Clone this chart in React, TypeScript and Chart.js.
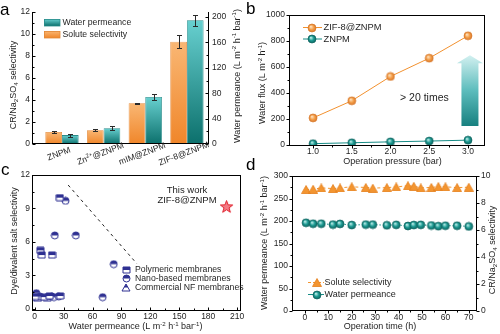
import React, { useEffect, useRef } from 'react';
import { Chart, registerables } from 'chart.js';
Chart.register(...registerables);

const FONT = 'Arial, "Liberation Sans", Helvetica, sans-serif';
const TXT = '#1e1e1e';
const ORANGE = '#f39530';
const TEAL = '#178c86';
const NAVY = '#2f3192';

// ---------- Panel a ----------
const aCategories = ['ZNPM', 'Zn^{2+}@ZNPM', 'mIM@ZNPM', 'ZIF-8@ZNPM'];
const aSelectivity = [1.1, 1.25, 3.7, 9.3];
const aSelectivityErr = [0.07, 0.07, 0.05, 0.6];
const aPermeance = [14, 25, 74, 195];
const aPermeanceErr = [2.5, 3.5, 4.5, 8.5];
const aLeftTicks = [0, 2, 4, 6, 8, 10, 12];
const aRightTicks = [0, 40, 80, 120, 160, 200];

// ---------- Panel b ----------
const bPressure = [1.0, 1.5, 2.0, 2.5, 3.0];
const bZif = [208, 340, 527, 668, 840];
const bZnpm = [10, 17, 24, 30, 37];
const bXTicks = [1.0, 1.5, 2.0, 2.5, 3.0];
const bYTicks = [0, 200, 400, 600, 800, 1000];

// ---------- Panel c ----------
const cPolyX = [0.5, 10, 15.5, 26.5, 5.9, 7.3, 18, 26];
const cPolyY = [1.1, 1.05, 1.15, 1.15, 5.24, 4.82, 4.82, 9.97];
const cNanoX = [1.7, 5.5, 17.5, 20, 25, 32, 20.8, 42.7, 82, 70.5];
const cNanoY = [1.4, 1.1, 1.1, 1.05, 1.1, 9.68, 6.58, 6.58, 4.0, 1.04];
const cCommX = [3, 13];
const cCommY = [1.0, 1.05];
const cThisX = [199];
const cThisY = [9.17];
const cTrendX = [34.7, 105.9];
const cTrendY = [11.1, 4.05];
const cXTicks = [0, 30, 60, 90, 120, 150, 180, 210];
const cYTicks = [0, 3, 6, 9, 12];

// ---------- Panel d ----------
const dTime = [0.5, 3.5, 7, 12, 15, 20, 26, 29, 35, 39, 44, 46.5, 49.5, 54, 57, 60, 65, 70];
const dSelectivity = [9.0, 9.02, 9.12, 9.07, 9.12, 9.2, 9.15, 9.1, 9.14, 9.19, 9.28, 9.24, 9.12, 9.15, 9.22, 9.2, 9.14, 9.17];
const dPermeance = [196, 194, 194, 192, 193.5, 191, 192, 192, 190.5, 191.5, 189, 191, 191.5, 190, 188.5, 189.5, 189.5, 188];
const dXTicks = [0, 10, 20, 30, 40, 50, 60, 70];
const dLeftTicks = [0, 50, 100, 150, 200, 250, 300];
const dRightTicks = [0, 2, 4, 6, 8, 10];

// ---------- helpers ----------
function mids(a: number[]) {
  const r: number[] = [];
  for (let i = 0; i < a.length - 1; i++) r.push((a[i] + a[i + 1]) / 2);
  return r;
}

type Seg = [string, number];
function parseRich(s: string): Seg[] {
  const out: Seg[] = [];
  let i = 0, buf = '';
  while (i < s.length) {
    const ch = s[i];
    if ((ch === '^' || ch === '_') && s[i + 1] === '{') {
      if (buf) { out.push([buf, 0]); buf = ''; }
      const end = s.indexOf('}', i);
      out.push([s.slice(i + 2, end), ch === '^' ? 1 : -1]);
      i = end + 1;
    } else { buf += ch; i++; }
  }
  if (buf) out.push([buf, 0]);
  return out;
}

function drawText(ctx: any, text: string, x: number, y: number, size: number, o: any = {}) {
  const segs = parseRich(text);
  ctx.save();
  ctx.translate(x, y);
  if (o.rot) ctx.rotate(o.rot);
  const fsz = (l: number) => (l === 0 ? size : size * 0.68);
  const setF = (l: number) => { ctx.font = `${o.weight || 'normal'} ${fsz(l)}px ${FONT}`; };
  let total = 0;
  const ws: number[] = [];
  for (const [t, l] of segs) { setF(l); const w = ctx.measureText(t).width; ws.push(w); total += w; }
  const align = o.align || 'center';
  let cx = align === 'center' ? -total / 2 : align === 'left' ? 0 : -total;
  ctx.textAlign = 'left';
  ctx.textBaseline = 'middle';
  ctx.fillStyle = o.color || TXT;
  segs.forEach(([t, l], k) => {
    setF(l);
    const dy = l === 1 ? -size * 0.32 : l === -1 ? size * 0.28 : 0;
    ctx.fillText(t, cx, dy);
    cx += ws[k];
  });
  ctx.restore();
}

function letter(ctx: any, t: string, x: number, y: number) {
  ctx.save();
  ctx.font = `17px ${FONT}`;
  ctx.fillStyle = '#000';
  ctx.textAlign = 'left';
  ctx.textBaseline = 'alphabetic';
  ctx.fillText(t, x, y);
  ctx.restore();
}

// size = thickness of the axis box (labels are clipped to it by Chart.js)
function axis(position: string, min: number, max: number, ticks: number[], size: number, o: any = {}) {
  return {
    type: 'linear',
    position,
    min,
    max,
    offset: false,
    grid: { display: false, drawTicks: false },
    border: { display: false },
    afterBuildTicks: (s: any) => { s.ticks = ticks.map((v) => ({ value: v })); },
    afterFit: (s: any) => {
      if (position === 'bottom' || position === 'top') s.height = size; else s.width = size;
      s.paddingLeft = 0; s.paddingRight = 0; s.paddingTop = 0; s.paddingBottom = 0;
    },
    ticks: {
      display: o.display !== false,
      padding: o.padding ?? 3,
      color: TXT,
      font: { family: FONT, size: 8.5 },
      autoSkip: false,
      maxRotation: 0,
      minRotation: 0,
      callback: (v: number) => (o.cb ? o.cb(v) : String(v)),
    },
  };
}

// chart area L,R,T,B ; axis box sizes: left, right, bottom
function common(L: number, R: number, T: number, B: number, sl: number, sr: number, sb: number) {
  return {
    responsive: false,
    animation: false,
    devicePixelRatio: 1,
    layout: { padding: { left: L - sl, right: 500 - R - sr, top: T, bottom: 334 - B - sb } },
    plugins: { legend: { display: false }, tooltip: { enabled: false } },
  };
}

function frame(ch: any, sides: string) {
  const { left, right, top, bottom } = ch.chartArea;
  const ctx = ch.ctx;
  ctx.save();
  ctx.strokeStyle = '#000';
  ctx.lineWidth = 1;
  ctx.beginPath();
  const l = Math.round(left) + 0.5, r = Math.round(right) - 0.5, t = Math.round(top) + 0.5, b = Math.round(bottom) - 0.5;
  if (sides.includes('l')) { ctx.moveTo(l, t - 0.5); ctx.lineTo(l, b + 0.5); }
  if (sides.includes('r')) { ctx.moveTo(r, t - 0.5); ctx.lineTo(r, b + 0.5); }
  if (sides.includes('t')) { ctx.moveTo(l - 0.5, t); ctx.lineTo(r + 0.5, t); }
  if (sides.includes('b')) { ctx.moveTo(l - 0.5, b); ctx.lineTo(r + 0.5, b); }
  ctx.stroke();
  ctx.restore();
}

function marks(ch: any, id: string, vals: number[], len: number, dir: string) {
  const s = ch.scales[id];
  const a = ch.chartArea;
  const ctx = ch.ctx;
  ctx.save();
  ctx.strokeStyle = '#000';
  ctx.lineWidth = 1;
  ctx.beginPath();
  for (const v of vals) {
    if (v < s.min || v > s.max) continue;
    const p = Math.round(s.getPixelForValue(v)) + 0.5;
    if (s.isHorizontal()) {
      const y = Math.round(a.bottom) - 0.5;
      const sg = dir === 'out' ? 1 : -1;
      ctx.moveTo(p, y); ctx.lineTo(p, y + sg * len);
    } else if (s.position === 'right') {
      const x = Math.round(a.right) - 0.5;
      const sg = dir === 'out' ? 1 : -1;
      ctx.moveTo(x, p); ctx.lineTo(x + sg * len, p);
    } else {
      const x = Math.round(a.left) + 0.5;
      const sg = dir === 'out' ? -1 : 1;
      ctx.moveTo(x, p); ctx.lineTo(x + sg * len, p);
    }
  }
  ctx.stroke();
  ctx.restore();
}

function barGrad(c: any, top: string, bot: string) {
  const chart = c.chart;
  if (c.type !== 'data' || !chart.chartArea) return bot;
  const ds = chart.data.datasets[c.datasetIndex];
  const ys = chart.scales[ds.yAxisID];
  if (!ys) return bot;
  const t = ys.getPixelForValue(c.raw.y);
  const b = ys.getPixelForValue(0);
  if (!isFinite(t) || !isFinite(b) || Math.abs(b - t) < 1) return bot;
  const g = chart.ctx.createLinearGradient(0, t, 0, b);
  g.addColorStop(0, top);
  g.addColorStop(1, bot);
  return g;
}

function errorBars(ch: any, di: number, errs: number[]) {
  const meta = ch.getDatasetMeta(di);
  const ds = ch.data.datasets[di];
  const ys = ch.scales[ds.yAxisID];
  const ctx = ch.ctx;
  ctx.save();
  ctx.strokeStyle = '#2a2a2a';
  ctx.lineWidth = 1;
  meta.data.forEach((el: any, i: number) => {
    const v = ds.data[i].y, e = errs[i];
    const x = Math.round(el.x) + 0.5;
    const t = Math.round(ys.getPixelForValue(v + e)) + 0.5;
    const b = Math.round(ys.getPixelForValue(v - e)) + 0.5;
    ctx.beginPath();
    ctx.moveTo(x, t); ctx.lineTo(x, b);
    ctx.moveTo(x - 2.5, t); ctx.lineTo(x + 2.5, t);
    ctx.moveTo(x - 2.5, b); ctx.lineTo(x + 2.5, b);
    ctx.stroke();
  });
  ctx.restore();
}

function mk(w: number, h: number, draw: (g: any) => void) {
  const c = document.createElement('canvas');
  c.width = w; c.height = h;
  draw(c.getContext('2d'));
  return c;
}

function ball(d: number, base: string, light: string, dark: string) {
  return mk(d + 2, d + 2, (g) => {
    const r = d / 2, cx = (d + 2) / 2;
    const gr = g.createRadialGradient(cx - r * 0.3, cx - r * 0.35, r * 0.05, cx, cx, r);
    gr.addColorStop(0, light);
    gr.addColorStop(0.55, base);
    gr.addColorStop(1, dark);
    g.fillStyle = gr;
    g.beginPath(); g.arc(cx, cx, r, 0, Math.PI * 2); g.fill();
    g.strokeStyle = dark; g.lineWidth = 0.7; g.stroke();
  });
}

function half(kind: string, w: number, h: number) {
  return mk(w + 2, h + 2, (g) => {
    const path = () => {
      g.beginPath();
      if (kind === 'circle') g.ellipse((w + 2) / 2, (h + 2) / 2, w / 2, h / 2, 0, 0, Math.PI * 2);
      else if (kind === 'square') g.rect(1, 1, w, h);
      else { g.moveTo((w + 2) / 2, 1); g.lineTo(w + 1, h + 1); g.lineTo(1, h + 1); g.closePath(); }
    };
    path(); g.fillStyle = '#fff'; g.fill();
    g.save(); path(); g.clip(); g.fillStyle = NAVY; g.fillRect(0, 0, w + 2, (h + 2) / 2); g.restore();
    path(); g.strokeStyle = NAVY; g.lineWidth = 1; g.stroke();
  });
}

function starImg() {
  return mk(15, 15, (g) => {
    const cx = 7.5, cy = 8, R = 6.5, r = 2.7;
    g.beginPath();
    for (let i = 0; i < 10; i++) {
      const a = -Math.PI / 2 + (i * Math.PI) / 5;
      const rr = i % 2 ? r : R;
      g.lineTo(cx + rr * Math.cos(a), cy + rr * Math.sin(a));
    }
    g.closePath();
    g.fillStyle = '#f37a84'; g.fill();
    g.strokeStyle = '#e0202c'; g.lineWidth = 1; g.stroke();
  });
}

function triImg() {
  return mk(10, 9, (g) => {
    g.beginPath(); g.moveTo(5, 0.5); g.lineTo(9.5, 8.5); g.lineTo(0.5, 8.5); g.closePath();
    g.fillStyle = ORANGE; g.fill();
    g.strokeStyle = '#e57f1c'; g.lineWidth = 0.8; g.stroke();
  });
}

function img(ctx: any, im: any, x: number, y: number) {
  ctx.drawImage(im, Math.round(x - im.width / 2), Math.round(y - im.height / 2));
}

// ---------- Charts ----------
function buildA(cv: HTMLCanvasElement) {
  const sel = aCategories.map((_, i) => ({ x: i + 1, y: aSelectivity[i] }));
  const perm = aCategories.map((_, i) => ({ x: i + 1, y: aPermeance[i] }));
  return new Chart(cv, {
    type: 'bar',
    data: {
      datasets: [
        { label: 'Solute selectivity', data: sel, yAxisID: 'y', backgroundColor: (c: any) => barGrad(c, '#f9b774', '#f0862a'), borderColor: '#e2893a', borderWidth: 0.8, categoryPercentage: 0.8, barPercentage: 1 },
        { label: 'Water permeance', data: perm, yAxisID: 'y2', backgroundColor: (c: any) => barGrad(c, '#68d0d0', '#0c706c'), borderColor: '#2b8c8a', borderWidth: 0.8, categoryPercentage: 0.8, barPercentage: 1 },
      ],
    } as any,
    options: {
      ...common(32, 209, 12, 144, 32, 30, 20),
      scales: {
        x: axis('bottom', 0.28, 4.53, [1, 2, 3, 4], 20, { display: false }),
        y: axis('left', 0, 12, aLeftTicks, 32, { padding: 2 }),
        y2: axis('right', 0, 208, aRightTicks, 30, { padding: 3 }),
      },
    } as any,
    plugins: [{
      id: 'decoA',
      afterDatasetsDraw(ch: any) { errorBars(ch, 0, aSelectivityErr); errorBars(ch, 1, aPermeanceErr); },
      afterDraw(ch: any) {
        const ctx = ch.ctx;
        frame(ch, 'lrb');
        marks(ch, 'y', aLeftTicks, 3, 'in');
        marks(ch, 'y', mids(aLeftTicks), 2, 'in');
        marks(ch, 'y2', aRightTicks, 3, 'in');
        marks(ch, 'y2', mids(aRightTicks), 2, 'in');
        const xs = ch.scales.x;
        aCategories.forEach((c, i) => {
          drawText(ctx, c, xs.getPixelForValue(i + 1) - 3, 154, 8.5, { rot: -0.36 });
        });
        const lg = [
          { t: 'Water permeance', c0: '#68d0d0', c1: '#0c706c', b: '#2b8c8a', y: 22.5 },
          { t: 'Solute selectivity', c0: '#f9b774', c1: '#f0862a', b: '#e2893a', y: 34.5 },
        ];
        lg.forEach((e) => {
          const g = ctx.createLinearGradient(0, e.y - 3.5, 0, e.y + 3.5);
          g.addColorStop(0, e.c0); g.addColorStop(1, e.c1);
          ctx.fillStyle = g;
          ctx.fillRect(44, e.y - 3.5, 16, 7);
          ctx.strokeStyle = e.b; ctx.lineWidth = 0.8;
          ctx.strokeRect(44.5, e.y - 3, 15.5, 6.5);
          drawText(ctx, e.t, 62.5, e.y, 8.7, { align: 'left' });
        });
        drawText(ctx, 'CR/Na_{2}SO_{4} selectivity', 13.5, 85, 9, { rot: -Math.PI / 2 });
        drawText(ctx, 'Water permeance (L m^{-2} h^{-1} bar^{-1})', 237.5, 76, 9, { rot: -Math.PI / 2 });
        letter(ctx, 'a', 0, 15);
      },
    }],
  } as any);
}

function buildB(cv: HTMLCanvasElement, bO: any, bT: any) {
  return new Chart(cv, {
    type: 'scatter',
    data: {
      datasets: [
        { label: 'ZIF-8@ZNPM', data: bPressure.map((x, i) => ({ x, y: bZif[i] })), showLine: true, borderColor: '#f2912f', borderWidth: 1, pointStyle: bO, pointRadius: 4 },
        { label: 'ZNPM', data: bPressure.map((x, i) => ({ x, y: bZnpm[i] })), showLine: true, borderColor: TEAL, borderWidth: 1, pointStyle: bT, pointRadius: 4 },
      ],
    } as any,
    options: {
      ...common(289, 485, 15, 146, 32, 0, 14),
      scales: {
        x: axis('bottom', 0.69, 3.22, bXTicks, 14, { padding: 1, cb: (v: number) => v.toFixed(1) }),
        y: axis('left', -8, 1000, bYTicks, 32, { padding: 4 }),
      },
    } as any,
    plugins: [{
      id: 'decoB',
      afterDraw(ch: any) {
        const ctx = ch.ctx;
        frame(ch, 'lrtb');
        marks(ch, 'x', bXTicks, 3, 'out');
        marks(ch, 'x', mids(bXTicks), 2, 'out');
        marks(ch, 'y', bYTicks, 3, 'out');
        marks(ch, 'y', mids(bYTicks), 2, 'out');
        const rows = [{ t: 'ZIF-8@ZNPM', c: '#f2912f', im: bO, y: 27.5 }, { t: 'ZNPM', c: TEAL, im: bT, y: 39 }];
        rows.forEach((r) => {
          ctx.save(); ctx.strokeStyle = r.c; ctx.lineWidth = 1;
          ctx.beginPath(); ctx.moveTo(303, r.y); ctx.lineTo(322, r.y); ctx.stroke(); ctx.restore();
          img(ctx, r.im, 312, r.y);
          drawText(ctx, r.t, 323.5, r.y, 9.3, { align: 'left' });
        });
        drawText(ctx, '> 20 times', 400, 98, 10.5, { align: 'left' });
        const xs = ch.scales.x, ys = ch.scales.y;
        const cx = xs.getPixelForValue(3.0) + 2;
        const tip = ys.getPixelForValue(690), base = ys.getPixelForValue(628), bot = ys.getPixelForValue(145);
        const g = ctx.createLinearGradient(0, tip, 0, bot);
        g.addColorStop(0, '#d2f0f0'); g.addColorStop(0.5, '#5cbcbc'); g.addColorStop(1, '#17807f');
        ctx.beginPath();
        ctx.moveTo(cx, tip); ctx.lineTo(cx + 13, base); ctx.lineTo(cx + 8.5, base); ctx.lineTo(cx + 8.5, bot);
        ctx.lineTo(cx - 8.5, bot); ctx.lineTo(cx - 8.5, base); ctx.lineTo(cx - 13, base); ctx.closePath();
        ctx.fillStyle = g; ctx.fill();
        drawText(ctx, 'Water flux (L m^{-2} h^{-1})', 263, 83, 9, { rot: -Math.PI / 2 });
        drawText(ctx, 'Operation pressure (bar)', 392.5, 162, 9);
        letter(ctx, 'b', 246, 14);
      },
    }],
  } as any);
}

function buildC(cv: HTMLCanvasElement, sq: any, ci: any, tr: any, st: any) {
  return new Chart(cv, {
    type: 'scatter',
    data: {
      datasets: [
        { label: 'trend', data: cTrendX.map((x, i) => ({ x, y: cTrendY[i] })), showLine: true, borderColor: '#222', borderWidth: 1, borderDash: [3, 3.5], pointRadius: 0 },
        { label: 'Polymeric membranes', data: cPolyX.map((x, i) => ({ x, y: cPolyY[i] })), pointStyle: sq, pointRadius: 3.5 },
        { label: 'Nano-based membranes', data: cNanoX.map((x, i) => ({ x, y: cNanoY[i] })), pointStyle: ci, pointRadius: 3.5 },
        { label: 'Commercial NF membranes', data: cCommX.map((x, i) => ({ x, y: cCommY[i] })), pointStyle: tr, pointRadius: 3.5 },
        { label: 'This work', data: cThisX.map((x, i) => ({ x, y: cThisY[i] })), pointStyle: st, pointRadius: 6 },
      ],
    } as any,
    options: {
      ...common(32, 241, 175, 311, 32, 0, 14),
      scales: {
        x: axis('bottom', -2.8, 214, cXTicks, 14, { padding: 0.5 }),
        y: axis('left', -0.2, 12, cYTicks, 32, { padding: 2 }),
      },
    } as any,
    plugins: [{
      id: 'decoC',
      afterDraw(ch: any) {
        const ctx = ch.ctx;
        frame(ch, 'lrtb');
        marks(ch, 'x', cXTicks, 3, 'in');
        marks(ch, 'x', mids(cXTicks), 2, 'in');
        marks(ch, 'y', cYTicks, 3, 'in');
        marks(ch, 'y', mids(cYTicks), 2, 'in');
        const rows = [
          { t: 'Polymeric membranes', im: sq, y: 269.5 },
          { t: 'Nano-based membranes', im: ci, y: 278.5 },
          { t: 'Commercial NF membranes', im: tr, y: 287.5 },
        ];
        rows.forEach((r) => { img(ctx, r.im, 126, r.y); drawText(ctx, r.t, 135, r.y, 8.7, { align: 'left' }); });
        drawText(ctx, 'This work', 187, 190.5, 9.5);
        drawText(ctx, 'ZIF-8@ZNPM', 187, 200.5, 9.5);
        drawText(ctx, 'Dye/divalent salt selectivity', 15, 241, 9, { rot: -Math.PI / 2 });
        drawText(ctx, 'Water permeance (L m^{-2} h^{-1} bar^{-1})', 135.5, 327, 9);
        letter(ctx, 'c', 1, 175);
      },
    }],
  } as any);
}

function buildD(cv: HTMLCanvasElement, tri: any, dT: any) {
  return new Chart(cv, {
    type: 'scatter',
    data: {
      datasets: [
        { label: 'Solute selectivity', data: dTime.map((x, i) => ({ x, y: dSelectivity[i] })), yAxisID: 'y2', showLine: true, borderColor: ORANGE, borderWidth: 1, borderDash: [3, 2.5], pointStyle: tri, pointRadius: 4 },
        { label: 'Water permeance', data: dTime.map((x, i) => ({ x, y: dPermeance[i] })), yAxisID: 'y', showLine: true, borderColor: TEAL, borderWidth: 1, borderDash: [1.5, 2], pointStyle: dT, pointRadius: 4 },
      ],
    } as any,
    options: {
      ...common(292, 477, 176, 311, 32, 20, 14),
      scales: {
        x: axis('bottom', -5.5, 73.5, dXTicks, 14, { padding: 1.5 }),
        y: axis('left', 0, 300, dLeftTicks, 32, { padding: 4 }),
        y2: axis('right', 0, 10, dRightTicks, 20, { padding: 4 }),
      },
    } as any,
    plugins: [{
      id: 'decoD',
      afterDraw(ch: any) {
        const ctx = ch.ctx;
        frame(ch, 'lrtb');
        marks(ch, 'x', dXTicks, 3, 'out');
        marks(ch, 'x', mids(dXTicks), 2, 'out');
        marks(ch, 'y', dLeftTicks, 3, 'out');
        marks(ch, 'y', mids(dLeftTicks), 2, 'out');
        marks(ch, 'y2', dRightTicks, 3, 'out');
        marks(ch, 'y2', mids(dRightTicks), 2, 'out');
        const rows = [
          { t: 'Solute selectivity', c: ORANGE, im: tri, y: 282.5, dash: [3, 2] },
          { t: 'Water permeance', c: TEAL, im: dT, y: 294.5, dash: [] },
        ];
        rows.forEach((r) => {
          ctx.save(); ctx.strokeStyle = r.c; ctx.lineWidth = 1; ctx.setLineDash(r.dash);
          ctx.beginPath(); ctx.moveTo(308, r.y); ctx.lineTo(324, r.y); ctx.stroke(); ctx.restore();
          img(ctx, r.im, 316.5, r.y);
          drawText(ctx, r.t, 324.5, r.y, 9, { align: 'left' });
        });
        drawText(ctx, 'Water permeance (L m^{-2} h^{-1} bar^{-1})', 265, 243, 9, { rot: -Math.PI / 2 });
        drawText(ctx, 'CR/Na_{2}SO_{4} selectivity', 493, 250, 9, { rot: -Math.PI / 2 });
        drawText(ctx, 'Operation time (h)', 380, 326.5, 9);
        letter(ctx, 'd', 246, 170);
      },
    }],
  } as any);
}

export default function App() {
  const ra = useRef<HTMLCanvasElement>(null);
  const rb = useRef<HTMLCanvasElement>(null);
  const rc = useRef<HTMLCanvasElement>(null);
  const rd = useRef<HTMLCanvasElement>(null);

  useEffect(() => {
    const ballO = ball(8, '#f5a04a', '#fde6c8', '#d9782a');
    const ballT = ball(8, '#1d9a92', '#c4f0ec', '#0d6661');
    const sq = half('square', 7, 6);
    const ci = half('circle', 7, 7);
    const tr = half('tri', 8, 7);
    const st = starImg();
    const tri = triImg();
    const charts = [
      buildA(ra.current!),
      buildB(rb.current!, ballO, ballT),
      buildC(rc.current!, sq, ci, tr, st),
      buildD(rd.current!, tri, ballT),
    ];
    return () => charts.forEach((c) => c.destroy());
  }, []);

  const cs: any = { position: 'absolute', left: 0, top: 0, width: 500, height: 334 };
  return (
    <div style={{ position: 'absolute', left: 0, top: 0, width: 500, height: 334, background: '#fff' }}>
      <canvas ref={ra} width={500} height={334} style={cs} />
      <canvas ref={rb} width={500} height={334} style={cs} />
      <canvas ref={rc} width={500} height={334} style={cs} />
      <canvas ref={rd} width={500} height={334} style={cs} />
    </div>
  );
}
